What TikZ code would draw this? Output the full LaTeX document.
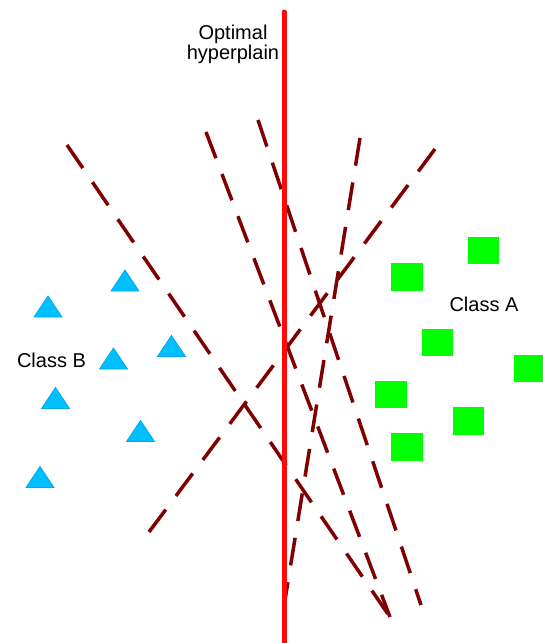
\documentclass[tikz,border=0pt]{standalone}
\usepackage{fontspec}
\setmainfont{Liberation Sans}
\definecolor{sepred}{RGB}{128,0,0}
\definecolor{optred}{RGB}{255,10,10}
\definecolor{bfill}{RGB}{0,191,255}
\definecolor{bdraw}{RGB}{0,170,235}
\definecolor{agreen}{RGB}{0,255,0}
\begin{document}
\begin{tikzpicture}[x=1pt,y=-1pt,
  sepline/.style={draw=sepred, line width=3.5pt, dash pattern=on 28pt off 17pt},
  optline/.style={draw=optred, line width=5pt, line cap=round},
  sq/.style={fill=agreen, draw=none, minimum width=31.5pt, minimum height=27.5pt, inner sep=0pt},
  lbl/.style={font=\fontsize{20}{20}\selectfont, inner sep=0pt, text=black},
  tri/.pic={\path[fill=bfill, draw=bdraw, line width=0.8pt] (-14,10.5) -- (14,10.5) -- (0,-10.5) -- cycle;}
]
\useasboundingbox (0,0) rectangle (542,643);
% separating candidate lines
\coordinate (l1s) at (67,145);  \coordinate (l1e) at (390,617);
\coordinate (l2s) at (206,132); \coordinate (l2e) at (390,617);
\coordinate (l3s) at (258,120); \coordinate (l3e) at (421,605);
\coordinate (l4s) at (360,138); \coordinate (l4e) at (285,600);
\coordinate (l5s) at (149,532); \coordinate (l5e) at (438,145);
\draw[sepline] (l1s) -- (l1e);
\draw[sepline] (l2s) -- (l2e);
\draw[sepline] (l3s) -- (l3e);
\draw[sepline] (l4s) -- (l4e);
\draw[sepline] (l5s) -- (l5e);
% optimal hyperplane
\coordinate (ot) at (284,12);
\coordinate (ob) at (284,650);
\draw[optline] (ot) -- (ob);
\node[lbl, align=center, anchor=north] (opt) at (233,25) {Optimal\\hyperplain};
% class B triangles
\pic (b1) at (125,280.5) {tri};
\pic (b2) at (48,306.5) {tri};
\pic (b3) at (113.5,358.5) {tri};
\pic (b4) at (171.5,346) {tri};
\pic (b5) at (55.5,398) {tri};
\pic (b6) at (140.5,431) {tri};
\pic (b7) at (40,477) {tri};
\node[lbl] (cb) at (51.5,360) {Class B};
% class A squares
\node[sq] (a1) at (483.5,250.5) {};
\node[sq] (a2) at (407,277) {};
\node[sq] (a3) at (437.5,342.5) {};
\node[sq] (a4) at (529.5,368.5) {};
\node[sq] (a5) at (391,394.5) {};
\node[sq] (a6) at (468.5,421) {};
\node[sq] (a7) at (407,447) {};
\node[lbl] (ca) at (484,304) {Class A};
\end{tikzpicture}
\end{document}
